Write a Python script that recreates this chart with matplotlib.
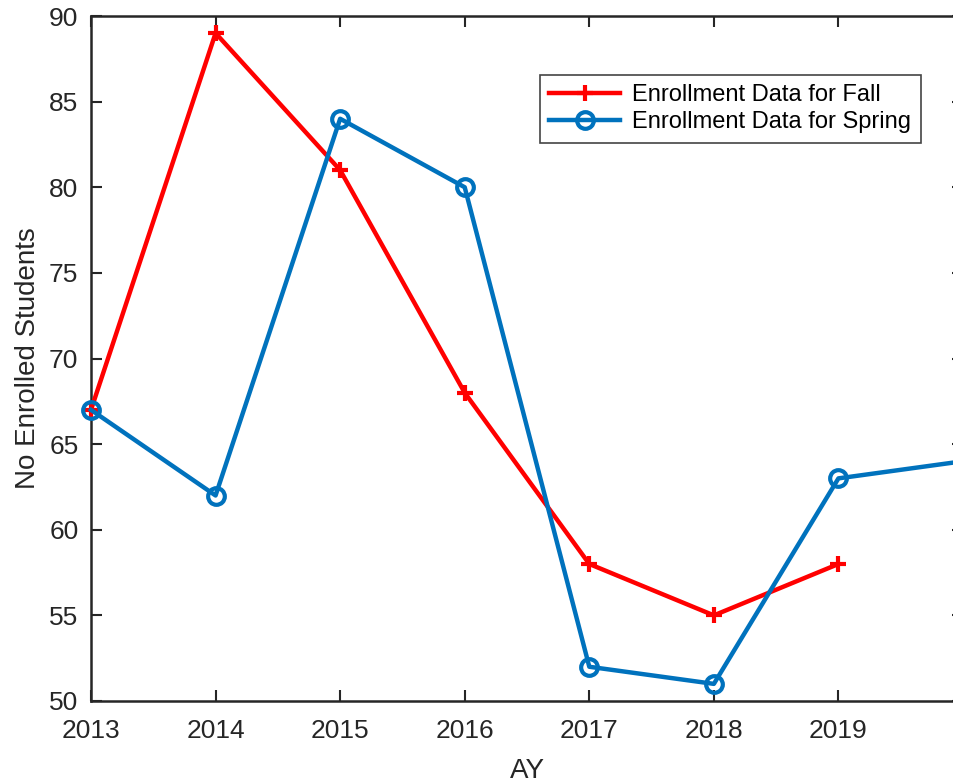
import matplotlib
matplotlib.use("Agg")
import matplotlib.pyplot as plt

years_fall = [2013, 2014, 2015, 2016, 2017, 2018, 2019]
fall = [67, 89, 81, 68, 58, 55, 58]
years_spring = [2013, 2014, 2015, 2016, 2017, 2018, 2019, 2020]
spring = [67, 62, 84, 80, 52, 51, 63, 64]
xticks = [2013, 2014, 2015, 2016, 2017, 2018, 2019]
yticks = [50, 55, 60, 65, 70, 75, 80, 85, 90]

plt.rcParams['font.family'] = ['Liberation Sans', 'DejaVu Sans']
dark = '#262626'

fig = plt.figure(figsize=(9.54, 7.83), dpi=100)
ax = fig.add_axes([91/954, 82/783, (963-91)/954, (701-16)/783])

ax.plot(years_fall, fall, color='#ff0000', lw=3.2, marker='+', ms=11, mew=3,
        label='Enrollment Data for Fall', clip_on=False, zorder=3)
ax.plot(years_spring, spring, color='#0072bd', lw=3.2, marker='o', ms=12, mew=3,
        mfc='none', label='Enrollment Data for Spring', clip_on=False, zorder=3)

ax.set_xlim(2013, 2020)
ax.set_ylim(50, 90)
ax.set_xticks(xticks)
ax.set_xticklabels([str(t) for t in xticks])
ax.set_yticks(yticks)
ax.tick_params(direction='in', top=True, right=True, length=8, width=1.5,
               labelsize=19, colors=dark)
ax.tick_params(axis='x', pad=13)
ax.tick_params(axis='y', pad=9)
for s in ax.spines.values():
    s.set_linewidth(1.8)
    s.set_color(dark)

ax.set_xlabel('AY', fontsize=20, color=dark, labelpad=11)
ax.set_ylabel('No Enrolled Students', fontsize=20, color=dark, labelpad=6)

leg = ax.legend(loc='upper left', bbox_to_anchor=((540-91)/872, 1-(75-16)/685),
                fontsize=17, frameon=True, fancybox=False, framealpha=1,
                edgecolor='#444444', handlelength=3.0, borderpad=0.4,
                labelspacing=0.2, handletextpad=0.5, borderaxespad=0,
                numpoints=1)
leg.get_frame().set_linewidth(1.2)

fig.savefig('out.png', dpi=100)
